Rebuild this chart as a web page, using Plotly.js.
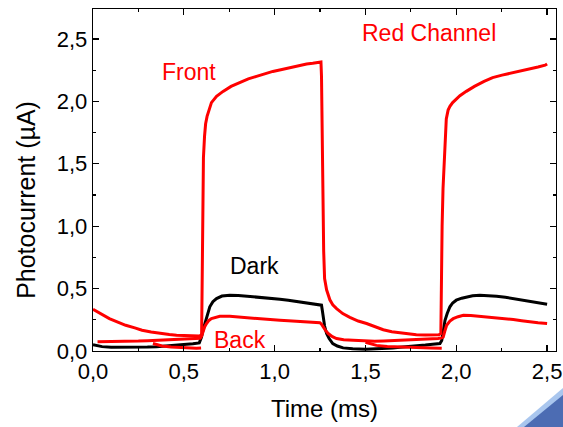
<!DOCTYPE html>
<html>
<head>
<meta charset="utf-8">
<script src="https://cdn.plot.ly/plotly-3.0.1.min.js"></script>
<style>html,body{margin:0;padding:0;background:#fff;}#chart{width:563px;height:427px;}</style>
</head>
<body>
<div id="chart"></div>
<script>
// Front (red, illuminated from front)
const frontT = [0, 0.05, 0.09, 0.14, 0.18, 0.23, 0.27, 0.32, 0.37, 0.42, 0.46, 0.51, 0.55, 0.585, 0.598, 0.601, 0.604, 0.608, 0.614, 0.62, 0.628, 0.64, 0.652, 0.68, 0.716, 0.76, 0.81, 0.855, 0.90, 0.945, 0.99, 1.04, 1.084, 1.13, 1.176, 1.21, 1.24, 1.255, 1.258, 1.261, 1.264, 1.267, 1.27, 1.275, 1.286, 1.304, 1.32, 1.341, 1.375, 1.414, 1.46, 1.506, 1.55, 1.598, 1.645, 1.69, 1.735, 1.78, 1.83, 1.87, 1.905, 1.915, 1.917, 1.919, 1.922, 1.927, 1.933, 1.936, 1.939, 1.945, 1.955, 1.965, 1.98, 1.995, 2.02, 2.055, 2.1, 2.153, 2.2, 2.252, 2.3, 2.351, 2.4, 2.45, 2.489, 2.50];
const frontI = [0.335, 0.29, 0.26, 0.23, 0.206, 0.185, 0.166, 0.152, 0.14, 0.132, 0.126, 0.122, 0.12, 0.12, 0.13, 0.6, 1.2, 1.55, 1.72, 1.82, 1.88, 1.94, 1.99, 2.04, 2.08, 2.12, 2.15, 2.18, 2.20, 2.22, 2.24, 2.255, 2.27, 2.285, 2.30, 2.305, 2.31, 2.315, 2.2, 1.7, 1.2, 1.05, 0.8, 0.58, 0.49, 0.41, 0.37, 0.34, 0.30, 0.27, 0.24, 0.22, 0.195, 0.17, 0.155, 0.145, 0.135, 0.13, 0.128, 0.128, 0.13, 0.14, 0.5, 0.83, 1.0, 1.3, 1.5, 1.58, 1.70, 1.86, 1.93, 1.96, 1.99, 2.01, 2.045, 2.08, 2.12, 2.16, 2.19, 2.21, 2.225, 2.24, 2.26, 2.275, 2.29, 2.30];

// Dark (black)
const darkT = [0, 0.05, 0.1, 0.15, 0.2, 0.25, 0.3, 0.35, 0.4, 0.45, 0.5, 0.55, 0.585, 0.597, 0.606, 0.615, 0.628, 0.643, 0.66, 0.68, 0.71, 0.753, 0.8, 0.845, 0.89, 0.937, 0.98, 1.029, 1.075, 1.12, 1.165, 1.212, 1.245, 1.258, 1.263, 1.267, 1.275, 1.286, 1.3, 1.32, 1.345, 1.377, 1.43, 1.5, 1.55, 1.6, 1.65, 1.69, 1.74, 1.78, 1.83, 1.87, 1.91, 1.92, 1.928, 1.938, 1.95, 1.965, 1.98, 2.0, 2.03, 2.057, 2.09, 2.13, 2.175, 2.222, 2.27, 2.314, 2.36, 2.406, 2.45, 2.5];
const darkI = [0.05, 0.035, 0.03, 0.03, 0.028, 0.03, 0.032, 0.035, 0.04, 0.045, 0.05, 0.058, 0.065, 0.11, 0.17, 0.22, 0.29, 0.354, 0.395, 0.42, 0.44, 0.447, 0.445, 0.44, 0.434, 0.428, 0.422, 0.415, 0.407, 0.398, 0.39, 0.38, 0.372, 0.367, 0.32, 0.27, 0.2, 0.14, 0.1, 0.06, 0.04, 0.025, 0.018, 0.015, 0.017, 0.02, 0.025, 0.03, 0.035, 0.04, 0.048, 0.055, 0.06, 0.085, 0.16, 0.246, 0.3, 0.354, 0.385, 0.407, 0.423, 0.434, 0.442, 0.447, 0.445, 0.439, 0.43, 0.42, 0.41, 0.402, 0.39, 0.375];

// Back (red)
const backT = [0.025, 0.06, 0.1, 0.15, 0.2, 0.25, 0.3, 0.35, 0.4, 0.45, 0.5, 0.55, 0.59, 0.598, 0.606, 0.615, 0.625, 0.638, 0.652, 0.675, 0.698, 0.753, 0.8, 0.845, 0.89, 0.937, 0.98, 1.029, 1.075, 1.12, 1.18, 1.249, 1.258, 1.267, 1.28, 1.295, 1.318, 1.341, 1.38, 1.432, 1.5, 1.55, 1.6, 1.65, 1.7, 1.75, 1.8, 1.85, 1.9, 1.92, 1.928, 1.937, 1.947, 1.965, 1.983, 2.01, 2.039, 2.08, 2.13, 2.175, 2.222, 2.27, 2.314, 2.36, 2.406, 2.45, 2.5];
const backI = [0.075, 0.075, 0.074, 0.075, 0.077, 0.08, 0.083, 0.086, 0.09, 0.094, 0.098, 0.1, 0.102, 0.12, 0.166, 0.195, 0.22, 0.245, 0.26, 0.272, 0.278, 0.278, 0.272, 0.265, 0.26, 0.254, 0.25, 0.246, 0.242, 0.238, 0.233, 0.227, 0.215, 0.193, 0.165, 0.14, 0.115, 0.1, 0.09, 0.086, 0.08, 0.078, 0.08, 0.083, 0.086, 0.09, 0.094, 0.098, 0.1, 0.105, 0.112, 0.16, 0.206, 0.24, 0.259, 0.275, 0.286, 0.284, 0.278, 0.273, 0.268, 0.26, 0.252, 0.243, 0.233, 0.226, 0.22];

// Back, lower baseline branch (red, seen before each rise)
const backLowT = [0.33, 0.38, 0.43, 0.48, 0.53, 0.57, 0.595, null, 1.5, 1.56, 1.62, 1.68, 1.74, 1.8, 1.86, 1.92];
const backLowI = [0.06, 0.04, 0.032, 0.028, 0.025, 0.023, 0.025, null, 0.07, 0.045, 0.036, 0.032, 0.03, 0.027, 0.025, 0.022];

const xTickVals = [0, 0.5, 1.0, 1.5, 2.0, 2.5];
const yTickVals = [0, 0.5, 1.0, 1.5, 2.0, 2.5];

const FONT = 'Arial, "Liberation Sans", sans-serif';
const RED = '#ff0000';

const traces = [
  {x: darkT, y: darkI, type: 'scatter', mode: 'lines', name: 'Dark', line: {color: '#000000', width: 3}},
  {x: backLowT, y: backLowI, type: 'scatter', mode: 'lines', name: 'Back', showlegend: false, connectgaps: false, line: {color: RED, width: 3}},
  {x: backT, y: backI, type: 'scatter', mode: 'lines', name: 'Back', line: {color: RED, width: 3}},
  {x: frontT, y: frontI, type: 'scatter', mode: 'lines', name: 'Front', line: {color: RED, width: 3}}
];

const axisCommon = {
  showline: true, mirror: 'ticks', linecolor: '#000', linewidth: 1.3,
  ticks: 'inside', ticklen: 6, tickwidth: 1.3, tickcolor: '#000',
  minor: {ticks: 'inside', ticklen: 3, tickwidth: 1.2, tickcolor: '#000', dtick: 0.25, showgrid: false},
  showgrid: false, zeroline: false, tickformat: '.1f',
  tickfont: {family: FONT, size: 22, color: '#000'}
};

const layout = {
  width: 563, height: 427,
  margin: {l: 93, r: 7, t: 9, b: 76},
  paper_bgcolor: '#fff', plot_bgcolor: '#fff',
  separators: ', ',
  showlegend: false,
  font: {family: FONT, color: '#000'},
  xaxis: Object.assign({}, axisCommon, {
    range: [0, 2.549], tickvals: xTickVals,
    title: {text: 'Time (ms)', font: {family: FONT, size: 24, color: '#000'}, standoff: 17}
  }),
  yaxis: Object.assign({}, axisCommon, {
    range: [0, 2.74], tickvals: yTickVals
  }),
  annotations: [
    {xref: 'paper', yref: 'paper', x: -0.145, y: 0.4415, text: 'Photocurrent (µA)', textangle: -90, showarrow: false, xanchor: 'center', yanchor: 'middle', font: {family: FONT, size: 25, color: '#000'}},
    {x: 1.849, y: 2.55, text: 'Red Channel', showarrow: false, font: {family: FONT, size: 23, color: RED}},
    {x: 0.528, y: 2.235, text: 'Front', showarrow: false, font: {family: FONT, size: 23, color: RED}},
    {x: 0.89, y: 0.68, text: 'Dark', showarrow: false, font: {family: FONT, size: 23, color: '#000'}},
    {x: 0.808, y: 0.09, text: 'Back', showarrow: false, font: {family: FONT, size: 23, color: RED}}
  ],
  shapes: [
    {type: 'path', xref: 'paper', yref: 'paper', path: 'M 0.9158 -0.2222 L 1.0151 -0.1082 L 1.0151 -0.2222 Z', fillcolor: '#a9c6ee', line: {width: 0}},
    {type: 'path', xref: 'paper', yref: 'paper', path: 'M 0.9309 -0.2222 L 1.0151 -0.1287 L 1.0151 -0.2222 Z', fillcolor: '#4c6cb3', line: {width: 0}}
  ]
};

Plotly.newPlot('chart', traces, layout, {displayModeBar: false, staticPlot: true});
</script>
</body>
</html>
